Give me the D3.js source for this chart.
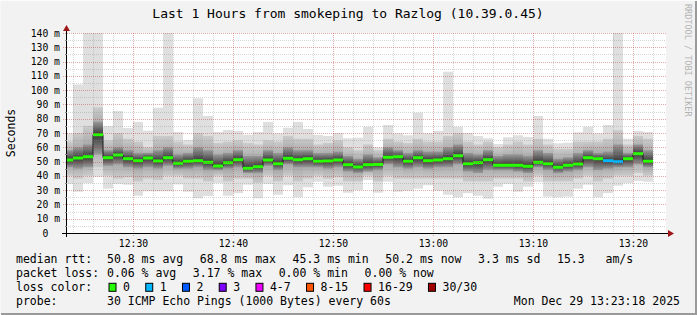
<!DOCTYPE html>
<html>
<head>
<meta charset="utf-8">
<script src="https://cdn.jsdelivr.net/npm/d3@7"></script>
<style>
  html, body { margin: 0; padding: 0; background: #f2f2f2; }
  svg { display: block; }
  text { font-family: "DejaVu Sans Mono", monospace; fill: #000; white-space: pre; }
</style>
</head>
<body>
<script>
// one column per minute, starting 12:23 (first column is cut by the graph start)
const firstMinute = "2025-12-29T12:23:00Z";
const graphStart = "2025-12-29T12:23:18Z";
const graphEnd = "2025-12-29T13:23:18Z";

const median = [51.1, 52.5, 53.4, 68.8, 52.7, 54.6, 52.0, 50.6, 52.5, 50.4,
  52.7, 48.8, 50.2, 50.6, 49.5, 46.9, 49.2, 51.3, 45.3, 46.4,
  51.1, 48.5, 52.3, 51.3, 52.0, 50.2, 50.4, 51.1, 47.8, 46.2,
  47.8, 48.0, 53.0, 53.4, 50.2, 52.7, 50.6, 51.1, 52.0, 54.1,
  48.5, 49.2, 51.3, 47.4, 47.4, 47.4, 46.7, 49.5, 48.5, 46.0,
  47.4, 48.3, 52.7, 52.0, 50.6, 49.9, 52.0, 55.5, 50.2];
const pingMax = [69.8, 104, 142, 142, 74.9, 85.4, 73.5, 77.7, 71.6, 87.7,
  142, 70.7, 65.1, 94.3, 81.9, 70.7, 72.1, 71.4, 68.8, 70.7,
  77.7, 69.8, 73.7, 77.7, 72.8, 68.6, 67.9, 70.0, 66.3, 66.7,
  74.4, 60.0, 75.6, 69.8, 68.4, 84.2, 69.8, 71.4, 112.9, 74.4,
  70.0, 67.9, 66.3, 62.3, 67.0, 68.4, 67.2, 81.9, 66.0, 62.8,
  63.2, 70.5, 74.4, 69.8, 75.6, 142, 66.0, 71.4, 70.7];
const p90 = [64, 70, 75, 88, 65, 70, 66, 64, 60, 68,
  68, 64, 62, 70, 68, 63, 64, 65, 63, 62,
  65, 64, 68, 66, 66, 62, 63, 65, 60, 58,
  62, 58, 66, 64, 63, 66, 64, 64, 68, 70,
  64, 62, 64, 60, 62, 64, 62, 66, 62, 59,
  59, 64, 64, 64, 66, 72, 62, 68, 66];
const p75 = [58, 60, 62, 78, 58, 60, 58, 56, 56, 58,
  60, 55, 56, 60, 58, 55, 56, 58, 54, 54,
  58, 56, 60, 58, 58, 56, 56, 57, 54, 52,
  55, 53, 60, 58, 56, 58, 57, 57, 60, 62,
  56, 55, 58, 54, 55, 55, 54, 58, 56, 52,
  53, 56, 58, 56, 57, 62, 56, 62, 58];
const p25 = [46, 45, 46, 55, 47, 48, 46, 45, 46, 45,
  47, 45, 45, 46, 44, 44, 45, 46, 42, 42,
  47, 44, 48, 46, 46, 46, 45, 46, 43, 42,
  43, 44, 48, 46, 45, 46, 45, 46, 46, 48,
  43, 42, 44, 44, 44, 43, 42, 46, 44, 42,
  43, 44, 46, 44, 45, 46, 46, 48, 46];
const p10 = [40, 38, 40, 46, 40, 38, 39, 36, 38, 37,
  40, 40, 38, 38, 36, 40, 36, 38, 38, 35,
  40, 36, 40, 36, 38, 40, 38, 39, 36, 36,
  40, 36, 40, 38, 38, 38, 38, 38, 38, 38,
  36, 36, 36, 38, 38, 38, 36, 40, 36, 36,
  36, 38, 40, 36, 38, 40, 40, 42, 40];
const pingMin = [34.3, 28.9, 34.8, 39.4, 31.0, 34.3, 33.8, 26.1, 29.2, 29.2,
  29.2, 34.0, 28.9, 24.3, 25.9, 34.8, 26.1, 27.9, 33.8, 24.3,
  34.3, 26.8, 33.4, 25.0, 32.0, 35.9, 32.4, 33.1, 28.2, 30.1,
  37.1, 28.2, 35.9, 28.9, 29.6, 31.0, 33.4, 29.6, 26.8, 25.0,
  27.9, 26.1, 24.0, 32.4, 34.3, 28.9, 32.4, 35.6, 25.4, 25.0,
  25.4, 31.0, 33.8, 25.0, 27.9, 33.1, 34.8, 36.4, 35.9];
const lossCount = [0, 0, 0, 0, 0, 0, 0, 0, 0, 0,
  0, 0, 0, 0, 0, 0, 0, 0, 0, 0,
  0, 0, 0, 0, 0, 0, 0, 0, 0, 0,
  0, 0, 0, 0, 0, 0, 0, 0, 0, 0,
  0, 0, 0, 0, 0, 0, 0, 0, 0, 0,
  0, 0, 0, 0, 1, 1, 0, 0, 0];

const yTicks = [0, 10, 20, 30, 40, 50, 60, 70, 80, 90, 100, 110, 120, 130, 140];

const lossLabels = ["0", "1", "2", "3", "4-7", "8-15", "16-29", "30/30"];
const lossColors = ["#26ff00", "#00b8ff", "#0059ff", "#7e00ff", "#ee00ff", "#ff5500", "#ff0000", "#a10000"];

const statRows = [
  ["median rtt:", "50.8 ms avg", "68.8 ms max", "45.3 ms min", "50.2 ms now", "3.3 ms sd", "15.3   am/s"],
  ["packet loss:", "0.06 % avg", "3.17 % max", "0.00 % min", "0.00 % now"],
];
const probeText = "30 ICMP Echo Pings (1000 Bytes) every 60s";
const stampText = "Mon Dec 29 13:23:18 2025";
const titleText = "Last 1 Hours from smokeping to Razlog (10.39.0.45)";

const W = 697, H = 315;
const plot = { left: 66, right: 666, top: 33, bottom: 233 };

const svg = d3.select("body").append("svg").attr("width", W).attr("height", H);

// background + shading frame
svg.append("rect").attr("width", W).attr("height", H).attr("fill", "#f2f2f2");
svg.append("path").attr("d", `M0,${H - 0.5}V0.5H${W - 0.5}`).attr("fill", "none").attr("stroke", "#fcfcfc");
svg.append("path").attr("d", `M1,${H - 1}H${W - 1}V1`).attr("fill", "none").attr("stroke", "#9a9a9a").attr("stroke-width", 2);

svg.append("rect")
  .attr("x", plot.left).attr("y", plot.top)
  .attr("width", plot.right - plot.left).attr("height", plot.bottom - plot.top)
  .attr("fill", "#fff");

const x = d3.scaleUtc()
  .domain([new Date(graphStart), new Date(graphEnd)])
  .range([plot.left, plot.right]);
const y = d3.scaleLinear().domain([0, 140]).range([plot.bottom, plot.top]);

const t0 = new Date(firstMinute);
const cols = median.map((m, i) => {
  const a = d3.utcMinute.offset(t0, i), b = d3.utcMinute.offset(t0, i + 1);
  return {
    i, med: m, lo: pingMin[i], hi: pingMax[i], p10: p10[i], p90: p90[i], p25: p25[i], p75: p75[i],
    loss: lossCount[i],
    x0: Math.max(plot.left, x(a)), x1: x(b),
  };
});

const defs = svg.append("defs");
defs.append("clipPath").attr("id", "plotclip")
  .append("rect")
  .attr("x", plot.left).attr("y", plot.top)
  .attr("width", plot.right - plot.left).attr("height", plot.bottom - plot.top);

function bandGradient(id, top, mid, bottom, edge, core) {
  const off = Math.max(0, Math.min(1, (top - mid) / (top - bottom)));
  const g = defs.append("linearGradient").attr("id", id)
    .attr("x1", 0).attr("x2", 0).attr("y1", 0).attr("y2", 1);
  g.append("stop").attr("offset", 0).attr("stop-color", edge);
  g.append("stop").attr("offset", off).attr("stop-color", core);
  g.append("stop").attr("offset", 1).attr("stop-color", edge);
}
cols.forEach((d) => {
  bandGradient(`outer-${d.i}`, d.p90, d.med, d.p10, "#cbcbcb", "#969696");
  bandGradient(`inner-${d.i}`, d.p75, d.med, d.p25, "#9a9a9a", "#383838");
});

// smoke
const smoke = svg.append("g").attr("clip-path", "url(#plotclip)");
const bar = (sel, lo, hi, fill) => sel.append("rect")
  .attr("x", (d) => d.x0).attr("width", (d) => d.x1 - d.x0)
  .attr("y", (d) => y(hi(d))).attr("height", (d) => y(lo(d)) - y(hi(d)))
  .attr("fill", fill);
const colG = smoke.selectAll("g").data(cols).enter().append("g");
bar(colG, (d) => d.lo, (d) => d.hi, "#dfdfdf");
bar(colG, (d) => d.p10, (d) => d.p90, (d) => `url(#outer-${d.i})`);
bar(colG, (d) => d.p25, (d) => d.p75, (d) => `url(#inner-${d.i})`);

// median step line + loss coloured bands
const stepPts = cols.map((d) => [d.x0, y(d.med)]);
stepPts.push([cols[cols.length - 1].x1, y(cols[cols.length - 1].med)]);
smoke.append("path")
  .attr("d", d3.line().curve(d3.curveStepAfter)(stepPts))
  .attr("fill", "none").attr("stroke", "#1a1a1a").attr("stroke-width", 1);
smoke.selectAll(".med").data(cols).enter().append("rect")
  .attr("x", (d) => d.x0).attr("width", (d) => d.x1 - d.x0)
  .attr("y", (d) => y(d.med) - 1.5).attr("height", 3)
  .attr("fill", (d) => lossColors[d.loss]);

// grid, drawn over the graph like rrdtool does
const grid = svg.append("g").attr("fill", "none").attr("stroke-dasharray", "1,1");
const minorY = d3.range(5, 141, 5).filter((v) => v % 10 !== 0);
const majorY = d3.range(10, 141, 10);
const minorX = d3.utcMinute.every(2).range(new Date(graphStart), new Date(graphEnd))
  .filter((t) => t.getUTCMinutes() % 10 !== 0);
const majorX = d3.utcMinute.every(10).range(new Date(graphStart), new Date(graphEnd));
const gridMinor = "rgba(140,140,140,0.36)";
const gridMajor = "rgba(183,43,43,0.4)";
grid.selectAll(".gy").data(minorY).enter().append("line")
  .attr("x1", plot.left).attr("x2", plot.right)
  .attr("y1", (v) => Math.round(y(v)) + 0.5).attr("y2", (v) => Math.round(y(v)) + 0.5)
  .attr("stroke", gridMinor);
grid.selectAll(".gx").data(minorX).enter().append("line")
  .attr("x1", (t) => Math.round(x(t)) + 0.5).attr("x2", (t) => Math.round(x(t)) + 0.5)
  .attr("y1", plot.top).attr("y2", plot.bottom + 2)
  .attr("stroke", gridMinor);
grid.selectAll(".my").data(majorY).enter().append("line")
  .attr("x1", plot.left - 3).attr("x2", plot.right)
  .attr("y1", (v) => Math.round(y(v)) + 0.5).attr("y2", (v) => Math.round(y(v)) + 0.5)
  .attr("stroke", gridMajor);
grid.selectAll(".mx").data(majorX).enter().append("line")
  .attr("x1", (t) => Math.round(x(t)) + 0.5).attr("x2", (t) => Math.round(x(t)) + 0.5)
  .attr("y1", plot.top).attr("y2", plot.bottom + 3)
  .attr("stroke", gridMajor);

// axes
const ax = svg.append("g").attr("stroke", "#000").attr("fill", "none");
ax.append("line").attr("x1", plot.left - 4).attr("x2", plot.right + 3)
  .attr("y1", plot.bottom + 0.5).attr("y2", plot.bottom + 0.5);
ax.append("line").attr("x1", plot.left + 0.5).attr("x2", plot.left + 0.5)
  .attr("y1", plot.bottom + 4).attr("y2", plot.top - 3);
ax.selectAll(".yt").data(minorY).enter().append("line")
  .attr("x1", plot.left - 1).attr("x2", plot.left + 1)
  .attr("y1", (v) => Math.round(y(v)) + 0.5).attr("y2", (v) => Math.round(y(v)) + 0.5)
  .attr("stroke", "#888");
svg.append("path")
  .attr("d", `M${plot.right + 2},${plot.bottom - 3}L${plot.right + 8},${plot.bottom + 0.5}L${plot.right + 2},${plot.bottom + 4}Z`)
  .attr("fill", "#a01515");
svg.append("path")
  .attr("d", `M${plot.left - 3},${plot.top - 2}L${plot.left + 0.5},${plot.top - 8}L${plot.left + 4},${plot.top - 2}Z`)
  .attr("fill", "#a01515");

// tick labels
svg.append("g").attr("font-size", 9.75).attr("text-anchor", "end")
  .selectAll("text").data(yTicks).enter().append("text")
  .attr("x", 60).attr("y", (v) => y(v)).attr("dy", "0.36em")
  .text((v) => (v === 0 ? "0\u00a0\u00a0" : `${v} m`));
svg.append("g").attr("font-size", 9.75).attr("text-anchor", "middle")
  .selectAll("text").data(majorX).enter().append("text")
  .attr("x", (t) => x(t) + 0.5).attr("y", 246.5)
  .text(d3.utcFormat("%H:%M"));

svg.append("text").attr("font-size", 13).attr("text-anchor", "middle")
  .attr("x", 348).attr("y", 18).text(titleText);
svg.append("text").attr("font-size", 11.5).attr("text-anchor", "middle")
  .attr("transform", "translate(15,133) rotate(-90)").text("Seconds");
svg.append("text").attr("font-size", 8.5).style("fill", "#b4b4b4")
  .attr("transform", "translate(684.5,4) rotate(90)").text("RRDTOOL / TOBI OETIKER");

// legend
const leg = svg.append("g").attr("font-size", 11.5);
const rowY = (k) => 263 + k * 13.9;
const gap = 16.6;
statRows.forEach((row, k) => {
  leg.append("text").attr("x", 16).attr("y", rowY(k)).text(row[0]);
  let cx = 107;
  row.slice(1).forEach((s) => {
    const t = leg.append("text").attr("x", cx).attr("y", rowY(k)).text(s);
    cx += t.node().getComputedTextLength() + gap;
  });
});
leg.append("text").attr("x", 16).attr("y", rowY(2)).text("loss color:");
let bx = 108.5;
lossLabels.forEach((lab, i) => {
  leg.append("rect").attr("x", bx + 0.5).attr("y", rowY(2) - 7.5)
    .attr("width", 7).attr("height", 8)
    .attr("fill", lossColors[i]).attr("stroke", "#000");
  const t = leg.append("text").attr("x", bx + 14.5).attr("y", rowY(2)).text(lab);
  bx += 14.5 + t.node().getComputedTextLength() + 15.3;
});
leg.append("text").attr("x", 16).attr("y", rowY(3)).text("probe:");
leg.append("text").attr("x", 107).attr("y", rowY(3)).text(probeText);
leg.append("text").attr("x", 680).attr("y", rowY(3)).attr("text-anchor", "end").text(stampText);
</script>
</body>
</html>
